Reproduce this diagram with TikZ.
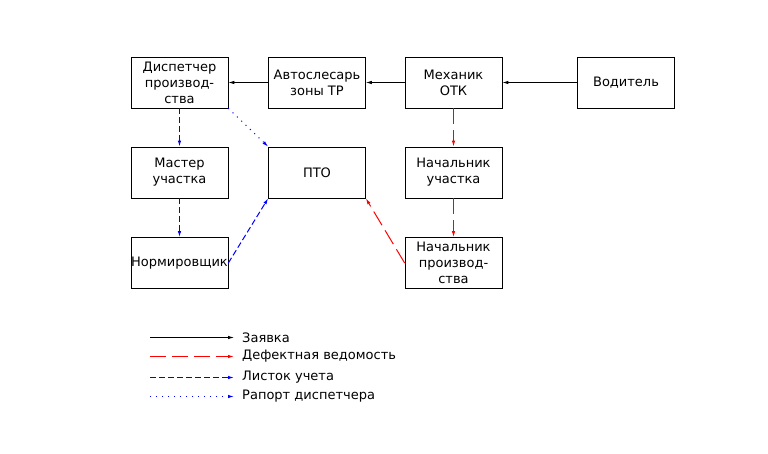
\documentclass[tikz,border=0pt]{standalone}
\usepackage{fontspec}
\setmainfont{DejaVu Sans}
\usetikzlibrary{arrows.meta}
\tikzset{font={\fontsize{13pt}{16pt}\selectfont}}
\tikzset{
  unit/.style={draw, line width=0.7pt, minimum width=97pt, minimum height=51pt, inner sep=0pt, align=center},
  zayavka/.style={black, line width=0.8pt, -{Latex[length=6pt,width=3.5pt]}},
  defekt/.style={red, line width=1pt, dash pattern=on 16pt off 6pt, -{Latex[length=6pt,width=3.5pt]}},
  listok/.style={blue, line width=1pt, dash pattern=on 6pt off 3pt, -{Latex[length=6pt,width=3.5pt]}},
  raport/.style={blue, line width=1pt, dash pattern=on 1pt off 5pt, -{Latex[length=6pt,width=3.5pt]}}
}

\begin{document}
\begin{tikzpicture}[x=1pt,y=-1pt]
      \useasboundingbox (0,0) rectangle (768,454);
      %units
      \node[unit] (disp) at (179.5,82.5) {Диспетчер\\производ-\\ства};
      \node[unit] (avto) at (317,82.5) {Автослесарь\\зоны ТР};
      \node[unit] (mech) at (453.5,82.5) {Механик\\ОТК};
      \node[unit] (vod) at (626,82.5) {Водитель};
      \node[unit] (master) at (179.5,172.5) {Мастер\\участка};
      \node[unit] (pto) at (317,172.5) {ПТО};
      \node[unit] (nachuch) at (453.5,172.5) {Начальник\\участка};
      \node[unit] (norm) at (179.5,263) {Нормировщик};
      \node[unit] (nachpr) at (453.5,263) {Начальник\\производ-\\ства};
      %flows
      \draw[zayavka] (vod) -- (mech);
      \draw[zayavka] (mech) -- (avto);
      \draw[zayavka] (avto) -- (disp);
      \draw[listok] (disp) -- (master);
      \draw[listok] (master) -- (norm);
      \draw[raport] (disp.south east) -- (pto.north west);
      \draw[listok] (norm.east) -- (pto.south west);
      \draw[defekt] (mech) -- (nachuch);
      \draw[defekt] (nachuch) -- (nachpr);
      \draw[defekt] (nachpr.west) -- (pto.south east);
      %legend
      \foreach \y/\s/\t [count=\i] in {337.5/zayavka/Заявка, 356.5/defekt/Дефектная ведомость, 377.5/listok/Листок учета, 396.5/raport/Рапорт диспетчера}{
        \coordinate (l\i a) at (150,\y);
        \coordinate (l\i b) at (234,\y);
        \draw[\s] (l\i a) -- (l\i b);
        \node[anchor=west, inner sep=0pt] (lt\i) at (242,\y) {\t};
      }
    \end{tikzpicture}
\end{document}
